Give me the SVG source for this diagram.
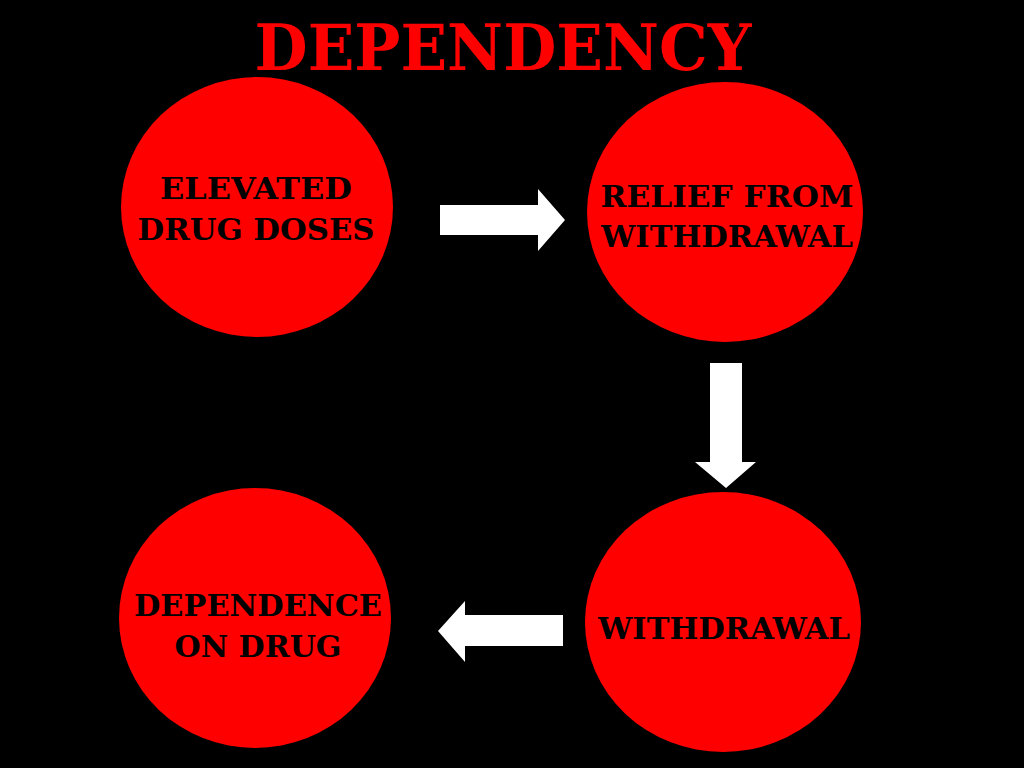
<svg xmlns="http://www.w3.org/2000/svg" width="1024" height="768" viewBox="0 0 1024 768">
<style>
.node{fill:#ff0000}
.lbl{font-family:"DejaVu Serif","Liberation Serif",serif;font-weight:bold;font-size:29px;fill:#000;text-anchor:middle}
.title{font-family:"DejaVu Serif","Liberation Serif",serif;font-weight:bold;font-size:64px;fill:#ff0000;text-anchor:middle}
.arrow{fill:#ffffff}
</style>
<rect width="1024" height="768" fill="#000"/>
<text class="title" x="503" y="70" textLength="497" lengthAdjust="spacingAndGlyphs">DEPENDENCY</text>
<g id="node-elevated">
<ellipse class="node" cx="257" cy="207" rx="136" ry="130"/>
<text class="lbl" x="256" y="199" textLength="192" lengthAdjust="spacingAndGlyphs">ELEVATED</text>
<text class="lbl" x="256" y="240" textLength="237" lengthAdjust="spacingAndGlyphs">DRUG DOSES</text>
</g>
<g id="node-relief">
<ellipse class="node" cx="725" cy="212" rx="138" ry="130"/>
<text class="lbl" x="727" y="207" textLength="253" lengthAdjust="spacingAndGlyphs">RELIEF FROM</text>
<text class="lbl" x="727" y="247" textLength="252" lengthAdjust="spacingAndGlyphs">WITHDRAWAL</text>
</g>
<g id="node-withdrawal">
<ellipse class="node" cx="723" cy="622" rx="138" ry="130"/>
<text class="lbl" x="724" y="639" textLength="252" lengthAdjust="spacingAndGlyphs">WITHDRAWAL</text>
</g>
<g id="node-dependence">
<ellipse class="node" cx="255" cy="618" rx="136" ry="130"/>
<text class="lbl" x="258" y="616" textLength="248" lengthAdjust="spacingAndGlyphs">DEPENDENCE</text>
<text class="lbl" x="258" y="657" textLength="167" lengthAdjust="spacingAndGlyphs">ON DRUG</text>
</g>
<g id="connectors">
<polygon class="arrow" points="440,205 538,205 538,189 565,220 538,251 538,235 440,235"/>
<polygon class="arrow" points="710,363 742,363 742,462 756,462 726,488 695,462 710,462"/>
<polygon class="arrow" points="563,615 465,615 465,601 438,631 465,662 465,646 563,646"/>
</g>
</svg>
